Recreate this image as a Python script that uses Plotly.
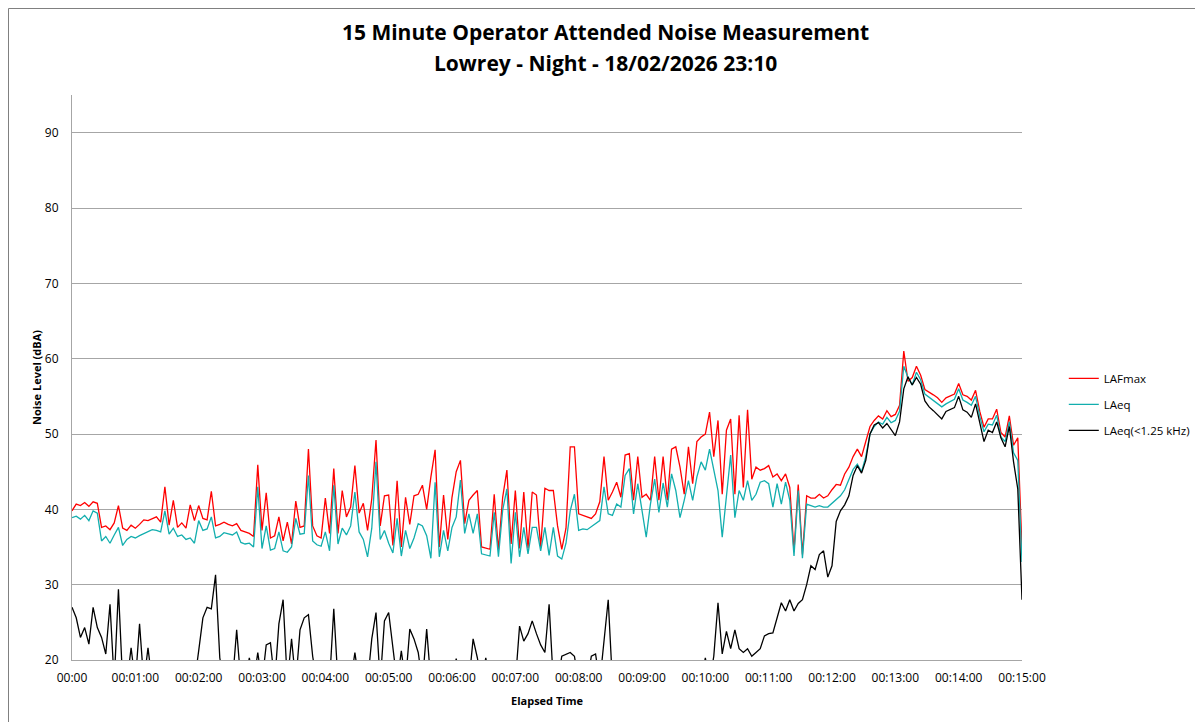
import plotly.graph_objects as go

# Elapsed time in seconds (sampled every 4 s)
elapsed_s = list(range(0, 901, 4))

lafmax = [
    39.8, 40.7, 40.5, 40.9, 40.4, 41.0, 40.8, 37.6, 37.8, 37.3, 38.2, 40.5, 37.5, 37.2, 37.9,
    37.5, 38.0, 38.6, 38.5, 38.8, 39.0, 38.3, 43.0, 37.9, 41.2, 37.6, 38.2, 37.5, 40.6,
    38.5, 40.5, 38.8, 38.6, 42.4, 37.8, 38.0, 38.3, 38.0, 37.8, 38.1, 37.2, 37.0, 36.8, 36.4,
    45.9, 37.2, 42.2, 36.2, 36.5, 39.0, 35.8, 38.3, 35.4, 41.1, 37.6, 37.8, 48.0, 37.8,
    36.5, 36.2, 41.5, 36.8, 45.4, 36.8, 42.5, 39.0, 40.3, 45.8, 39.5, 40.8, 37.2, 41.4,
    49.2, 37.8, 41.8, 41.9, 35.2, 43.8, 35.0, 41.6, 38.0, 41.8, 42.0, 43.2, 40.0, 44.3,
    47.9, 35.0, 41.9, 36.0, 41.6, 45.0, 46.5, 38.1, 41.2, 41.9, 42.5, 35.0, 34.8, 34.7,
    42.0, 34.6, 41.6, 45.2, 35.4, 42.5, 34.8, 42.3, 34.8, 42.3, 41.9, 35.0, 42.8, 42.5,
    42.5, 37.8, 34.7, 37.5, 48.3, 48.3, 39.4, 39.2, 39.0, 38.8, 39.4, 41.0, 47.0, 41.2,
    42.3, 43.6, 41.6, 47.2, 47.4, 41.2, 47.0, 41.6, 42.0, 41.2, 47.0, 41.2, 47.0, 41.2, 48.0,
    48.3, 45.6, 42.0, 48.3, 43.4, 49.0, 49.6, 50.0, 52.9, 47.0, 51.8, 42.0, 50.5, 52.0,
    42.0, 52.5, 42.9, 53.2, 44.0, 45.6, 45.2, 45.4, 45.8, 44.3, 44.7, 43.8, 44.7, 42.9,
    34.4, 43.3, 34.0, 41.8, 41.5, 41.5, 42.0, 41.5, 41.8, 42.6, 43.3, 43.2, 44.7, 45.6,
    47.0, 48.0, 47.0, 49.0, 51.0, 51.8, 52.4, 52.0, 53.1, 52.3, 52.6, 53.8, 61.0, 57.0, 57.5,
    59.0, 57.8, 55.9, 55.6, 55.2, 54.8, 54.2, 54.8, 55.0, 55.3, 56.7, 55.2, 55.0, 54.5,
    55.8, 53.0, 50.9, 52.0, 52.0, 53.3, 50.2, 49.6, 52.4, 48.5, 49.5, 34.8,
]

laeq = [
    38.9, 39.1, 38.7, 39.2, 38.5, 39.8, 39.5, 35.8, 36.4, 35.5, 36.6, 37.6, 35.2, 36.0, 36.4,
    36.2, 36.5, 36.8, 37.0, 37.3, 37.2, 37.0, 39.8, 36.7, 37.5, 36.4, 36.6, 36.0, 36.2,
    35.5, 38.5, 37.2, 37.4, 39.0, 36.2, 36.4, 36.9, 36.8, 36.6, 37.0, 35.6, 35.4, 35.5, 35.0,
    43.0, 34.8, 37.8, 34.6, 34.8, 37.0, 34.5, 34.3, 35.0, 38.8, 36.7, 36.8, 44.5, 35.8,
    35.3, 35.1, 37.0, 34.5, 43.2, 35.4, 37.5, 36.6, 37.8, 42.3, 37.0, 36.0, 33.7, 37.5,
    46.3, 36.0, 37.2, 35.5, 34.2, 38.8, 33.8, 37.2, 34.8, 36.2, 38.1, 37.8, 36.5, 33.5,
    43.6, 33.7, 37.2, 34.5, 37.6, 39.0, 43.9, 36.8, 39.4, 36.8, 39.4, 34.1, 33.9, 33.8,
    39.6, 33.7, 39.9, 42.7, 32.8, 39.6, 33.7, 37.6, 34.1, 37.6, 37.6, 34.5, 37.6, 33.9,
    37.6, 33.8, 33.4, 35.5, 39.8, 42.0, 37.2, 37.4, 37.3, 37.7, 38.0, 38.5, 43.0, 39.4,
    39.2, 40.7, 40.3, 44.5, 45.4, 39.4, 43.4, 39.8, 36.3, 40.7, 44.0, 39.6, 43.5, 40.3, 44.7,
    42.5, 38.9, 41.2, 43.8, 41.2, 44.3, 46.3, 45.2, 48.0, 45.0, 42.5, 36.3, 42.0, 47.2,
    38.9, 42.5, 41.2, 43.8, 41.2, 42.0, 43.6, 43.8, 43.4, 40.3, 43.4, 40.7, 43.6, 41.2,
    33.8, 42.5, 33.5, 40.7, 40.5, 40.3, 40.5, 40.3, 40.3, 40.8, 41.3, 41.8, 42.6, 44.0,
    45.3, 46.0, 45.0, 47.0, 50.0, 51.0, 51.6, 51.3, 52.2, 51.5, 51.8, 53.0, 59.0, 57.5, 56.5,
    58.2, 57.2, 55.3, 54.9, 54.5, 54.1, 53.6, 54.0, 54.3, 54.6, 56.0, 54.5, 54.2, 53.8,
    55.0, 52.3, 50.3, 51.3, 51.2, 52.5, 49.6, 49.0, 51.6, 47.5, 46.5, 33.0,
]

laeq_low = [
    27.0, 25.6, 23.0, 24.3, 22.1, 27.0, 24.3, 23.0, 20.8, 27.4, 17.0, 29.4, 17.0, 17.0, 21.6,
    17.0, 24.8, 17.0, 21.6, 17.0, 17.0, 17.0, 17.0, 17.0, 17.0, 17.0, 17.0, 17.0, 17.0,
    17.0, 21.2, 25.6, 27.0, 26.8, 31.3, 20.3, 17.0, 17.0, 17.0, 24.0, 17.0, 17.0, 20.3, 17.0,
    21.0, 17.0, 22.0, 22.3, 17.0, 24.8, 28.0, 17.0, 22.8, 17.0, 24.0, 25.6, 26.0, 20.5,
    17.0, 17.0, 17.0, 17.0, 26.8, 17.0, 17.0, 17.0, 17.0, 21.0, 17.0, 17.0, 17.0, 22.8,
    26.3, 17.0, 25.2, 26.3, 21.0, 17.0, 21.2, 17.0, 24.1, 22.8, 21.0, 17.0, 24.1, 17.0,
    17.0, 17.0, 17.0, 17.0, 17.0, 20.2, 17.0, 17.0, 17.0, 22.8, 20.3, 17.0, 20.3, 17.0,
    17.0, 17.0, 17.0, 17.0, 17.0, 17.0, 24.5, 22.5, 23.5, 25.2, 23.5, 22.0, 21.0, 27.4,
    17.0, 17.0, 20.5, 20.8, 21.0, 20.5, 17.0, 17.0, 17.0, 20.5, 20.8, 17.0, 23.0, 28.0,
    17.0, 17.0, 17.0, 17.0, 17.0, 17.0, 17.0, 17.0, 17.0, 17.0, 17.0, 17.0, 17.0, 17.0, 17.0,
    17.0, 17.0, 17.0, 17.0, 17.0, 17.0, 17.0, 20.3, 17.0, 20.5, 27.6, 20.8, 23.8, 21.5,
    24.0, 21.5, 21.0, 21.5, 20.5, 21.0, 21.5, 23.2, 23.5, 23.6, 25.8, 27.6, 26.5, 28.0,
    26.5, 27.5, 28.0, 30.0, 32.5, 32.0, 34.0, 34.5, 31.0, 32.5, 38.4, 39.8, 40.6, 41.8,
    44.5, 45.8, 44.8, 46.5, 50.0, 51.2, 51.5, 50.8, 51.4, 50.6, 49.8, 51.6, 56.0, 57.6, 56.5,
    57.5, 56.6, 54.4, 53.6, 53.1, 52.5, 52.0, 53.0, 53.3, 53.5, 55.0, 53.2, 52.9, 52.2,
    54.0, 51.5, 49.0, 50.5, 50.2, 51.6, 49.5, 48.3, 51.0, 46.3, 42.7, 28.0,
]

tick_seconds = [0, 60, 120, 180, 240, 300, 360, 420, 480, 540, 600, 660, 720, 780, 840, 900]
tick_labels = ["00:00", "00:01:00", "00:02:00", "00:03:00", "00:04:00", "00:05:00",
               "00:06:00", "00:07:00", "00:08:00", "00:09:00", "00:10:00", "00:11:00",
               "00:12:00", "00:13:00", "00:14:00", "00:15:00"]
y_ticks = [20, 30, 40, 50, 60, 70, 80, 90]

title_line1 = "15 Minute Operator Attended Noise Measurement"
title_line2 = "Lowrey - Night - 18/02/2026 23:10"

assert len(lafmax) == len(elapsed_s) == len(laeq) == len(laeq_low)

FONT = "Open Sans"
GRID = "#a6a6a6"
CLEAR = "rgba(0,0,0,0)"

fig = go.Figure()
series = [
    ("LAFmax", lafmax, "#ff0000"),
    ("LAeq", laeq, "#12aeae"),
    ("LAeq(<1.25 kHz)", laeq_low, "#000000"),
]
for i, (name, vals, col) in enumerate(series):
    fig.add_trace(go.Scatter(
        x=elapsed_s, y=vals, name=name, mode="lines",
        line=dict(color=col, width=1.3),
        legendgroup=f"g{i}",
    ))

# page body has an 8px default margin, so margins are reduced by 8 on left/top
fig.update_layout(
    width=1203, height=722,
    margin=dict(l=64, r=189, t=87, b=70, autoexpand=False),
    paper_bgcolor="white", plot_bgcolor="white",
    font=dict(family=FONT, size=11, color="#000000"),
    title=dict(
        text="<b>" + title_line1 + "</b>",
        x=0.4967, xanchor="center", y=1 - 17 / 722, yanchor="top",
        font=dict(family=FONT, size=21, color="#000000"),
    ),
    annotations=[
        dict(text="<b>" + title_line2 + "</b>", xref="paper", yref="paper",
             x=0.5616, y=(660 - 63) / 565, xanchor="center", yanchor="middle", showarrow=False,
             font=dict(family=FONT, size=21, color="#000000")),
    ],
    showlegend=True,
    legend=dict(
        x=1.044, xanchor="left", y=0.524, yanchor="top",
        font=dict(family=FONT, size=11.5, color="#000000"),
        tracegroupgap=7, bgcolor=CLEAR,
    ),
    xaxis=dict(
        range=[0, 900], tickmode="array", tickvals=tick_seconds, ticktext=tick_labels,
        showgrid=False, zeroline=False, showline=True, linecolor=GRID, linewidth=1,
        ticks="outside", ticklen=7, tickcolor=CLEAR,
        tickfont=dict(family=FONT, size=12, color="#000000"),
        title=dict(text="<b>Elapsed Time</b>", font=dict(family=FONT, size=11, color="#000000"), standoff=11),
    ),
    yaxis=dict(
        range=[20, 95], tickmode="array", tickvals=y_ticks,
        showgrid=True, gridcolor=GRID, gridwidth=1, zeroline=False,
        showline=True, linecolor=GRID, linewidth=1,
        ticks="outside", ticklen=10, tickcolor=CLEAR,
        tickfont=dict(family=FONT, size=12, color="#000000"),
        title=dict(text="<b>Noise Level (dBA)</b>", font=dict(family=FONT, size=11, color="#000000"), standoff=1),
    ),
    shapes=[
        dict(type="line", xref="paper", yref="paper", x0=-63.5 / 950, x1=-63.5 / 950,
             y0=651.5 / 565, y1=-0.14, line=dict(color="#808080", width=1)),
        dict(type="line", xref="paper", yref="paper", x0=-63.5 / 950, x1=1.2,
             y0=651.5 / 565, y1=651.5 / 565, line=dict(color="#808080", width=1)),
    ],
)

fig.write_html("out.html")
